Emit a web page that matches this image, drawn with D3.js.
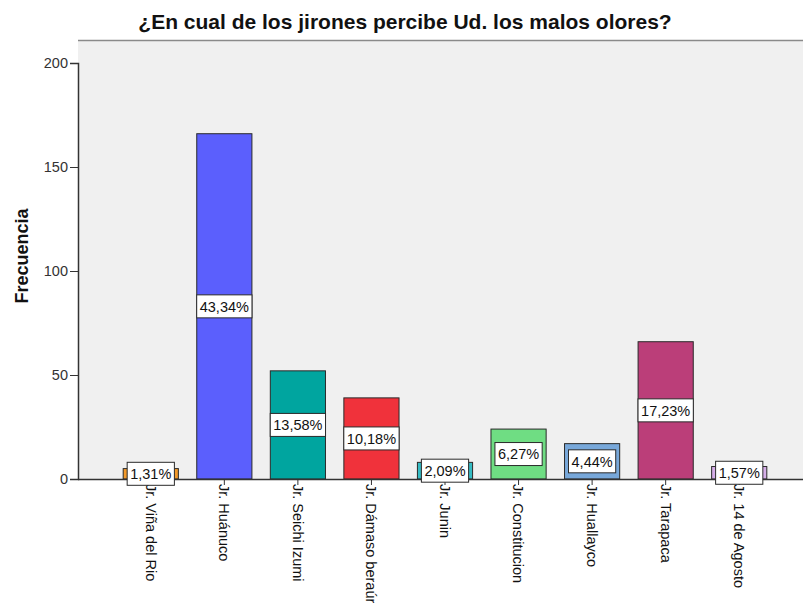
<!DOCTYPE html>
<html>
<head>
<meta charset="utf-8">
<script src="https://cdn.jsdelivr.net/npm/d3@7"></script>
<style>
  html, body { margin: 0; padding: 0; background: #ffffff; }
  svg { display: block; font-family: "Liberation Sans", Arial, sans-serif; }
</style>
</head>
<body>
<svg id="chart" width="803" height="605"></svg>
<script>
// Jirones (streets) and how many respondents named each one
const categories = [
  "Jr. Viña del Rio", "Jr. Huánuco", "Jr. Seichi Izumi", "Jr. Dámaso beraúr",
  "Jr. Junin", "Jr. Constitucion", "Jr. Huallayco", "Jr. Tarapaca", "Jr. 14 de Agosto"
];
const frequencies = [5, 166, 52, 39, 8, 24, 17, 66, 6];
const percentLabels = ["1,31%", "43,34%", "13,58%", "10,18%", "2,09%", "6,27%", "4,44%", "17,23%", "1,57%"];
const barColors = ["#f39a2b", "#5b5ffd", "#00a59f", "#f0323b", "#35bcc4", "#6fdd83", "#78a8da", "#bb3e79", "#d6aee8"];
const yTicks = [0, 50, 100, 150, 200];

const titleText = "¿En cual de los jirones percibe Ud. los malos olores?";
const yAxisTitle = "Frecuencia";

const svg = d3.select("#chart");

const plot = { left: 78, top: 40, right: 803, bottom: 479 };

const x = d3.scaleBand()
  .domain(categories)
  .range([114, 776])
  .paddingInner(0.25)
  .paddingOuter(0.125);

const y = d3.scaleLinear()
  .domain([0, 200])
  .range([plot.bottom, 63]);

// Plot background
svg.append("rect")
  .attr("x", plot.left)
  .attr("y", plot.top)
  .attr("width", plot.right - plot.left)
  .attr("height", plot.bottom - plot.top)
  .attr("fill", "#f0f0f0");

// Top frame line
svg.append("line")
  .attr("x1", plot.left).attr("x2", plot.right)
  .attr("y1", plot.top + 0.5).attr("y2", plot.top + 0.5)
  .attr("stroke", "#8a8a8a").attr("stroke-width", 1.5);

// Title
svg.append("text")
  .attr("x", 405)
  .attr("y", 29)
  .attr("text-anchor", "middle")
  .attr("font-size", 21)
  .attr("font-weight", "bold")
  .attr("fill", "#111")
  .text(titleText);

// Bars
svg.append("g")
  .selectAll("rect")
  .data(categories)
  .join("rect")
  .attr("x", d => x(d))
  .attr("y", (d, i) => y(frequencies[i]))
  .attr("width", x.bandwidth())
  .attr("height", (d, i) => y(0) - y(frequencies[i]))
  .attr("fill", (d, i) => barColors[i])
  .attr("stroke", "#2a2a2a")
  .attr("stroke-width", 1);

// Y axis
const yAxis = svg.append("g")
  .attr("transform", `translate(${plot.left},0)`)
  .call(d3.axisLeft(y).tickValues(yTicks).tickSize(8).tickPadding(2).tickFormat(d3.format("d")));
yAxis.select(".domain").attr("stroke", "#333").attr("stroke-width", 1.5);
yAxis.selectAll(".tick line").attr("stroke", "#333");
yAxis.selectAll(".tick text")
  .attr("font-size", 14.5)
  .attr("fill", "#333")
  .attr("font-family", "Liberation Sans, Arial, sans-serif");

// X axis
const xAxis = svg.append("g")
  .attr("transform", `translate(0,${plot.bottom})`)
  .call(d3.axisBottom(x).tickSize(6).tickSizeOuter(0));
xAxis.select(".domain").attr("d", `M${plot.left},0.5H${plot.right}`).attr("stroke", "#333").attr("stroke-width", 1.5);
xAxis.selectAll(".tick line").attr("stroke", "#333");
xAxis.selectAll(".tick text")
  .attr("font-size", 14.5)
  .attr("fill", "#111")
  .attr("font-family", "Liberation Sans, Arial, sans-serif")
  .attr("text-anchor", "start")
  .attr("dy", "0.35em")
  .attr("transform", "translate(0,5) rotate(90)")
  .attr("x", 0)
  .attr("y", 0);

// Percentage labels centred on each bar
const labels = svg.append("g")
  .selectAll("g")
  .data(categories)
  .join("g")
  .attr("transform", (d, i) => `translate(${x(d) + x.bandwidth() / 2},${y(frequencies[i] / 2)})`);

labels.append("text")
  .attr("text-anchor", "middle")
  .attr("dy", "0.36em")
  .attr("font-size", 14.5)
  .attr("fill", "#111")
  .text((d, i) => percentLabels[i]);

labels.each(function () {
  const g = d3.select(this);
  const bb = g.select("text").node().getBBox();
  g.insert("rect", "text")
    .attr("x", -bb.width / 2 - 3)
    .attr("y", -11.5)
    .attr("width", bb.width + 6)
    .attr("height", 23)
    .attr("fill", "#ffffff")
    .attr("stroke", "#2a2a2a")
    .attr("stroke-width", 1);
});

// Y axis title
svg.append("text")
  .attr("transform", "translate(28,256) rotate(-90)")
  .attr("text-anchor", "middle")
  .attr("font-size", 18)
  .attr("font-weight", "bold")
  .attr("fill", "#111")
  .text(yAxisTitle);
</script>
</body>
</html>
